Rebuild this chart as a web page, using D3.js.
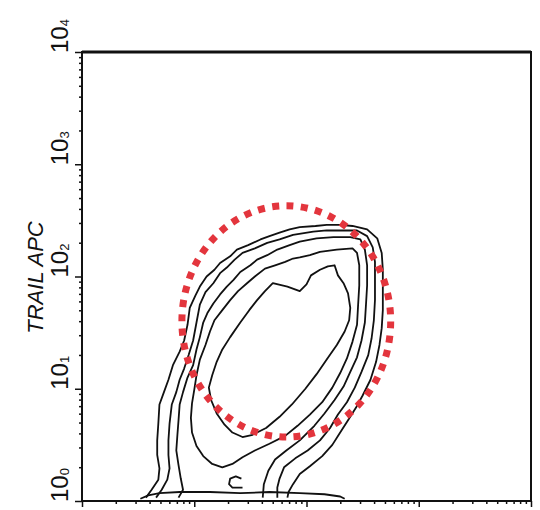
<!DOCTYPE html>
<html>
<head>
<meta charset="utf-8">
<script src="https://cdn.jsdelivr.net/npm/d3@7"></script>
<style>
  html, body { margin: 0; padding: 0; background: #fff; }
  svg { display: block; }
</style>
</head>
<body>
<svg id="chart" width="540" height="510"></svg>
<script>
// Four-decade log axes (10^0 .. 10^4)
const decadeExponents = [0, 1, 2, 3, 4];
const minorMultiples = [2, 3, 4, 5, 6, 7, 8, 9];
const yAxisTitle = "TRAIL APC";

// Density contours, outermost level first.
// Each point is [log10 x-intensity, log10 TRAIL APC intensity].
const contourLevel1 = [
  [0.57,0.03],[0.62,0.10],[0.68,0.19],[0.69,0.29],[0.67,0.41],[0.67,0.54],[0.68,0.69],
  [0.69,0.86],[0.73,0.97],[0.77,1.08],[0.81,1.21],[0.87,1.33],[0.91,1.43],[0.94,1.57],
  [0.96,1.72],[1.01,1.83],[1.05,1.91],[1.11,2.00],[1.18,2.06],[1.23,2.12],[1.32,2.18],
  [1.38,2.24],[1.48,2.28],[1.59,2.33],[1.67,2.36],[1.76,2.39],[1.85,2.42],[1.94,2.44],
  [2.08,2.45],[2.18,2.46],[2.30,2.46],[2.41,2.45],[2.54,2.42],[2.63,2.34],[2.67,2.21],
  [2.68,2.06],[2.68,1.88],[2.68,1.70],[2.67,1.54],[2.65,1.39],[2.62,1.24],[2.57,1.08],
  [2.50,0.94],[2.44,0.83],[2.37,0.72],[2.30,0.61],[2.23,0.50],[2.14,0.40],[2.03,0.31],
  [1.94,0.24],[1.88,0.15],[1.84,0.08],[1.83,0.03]
];
const contourLevel2 = [
  [0.66,0.03],[0.71,0.10],[0.76,0.19],[0.78,0.29],[0.77,0.41],[0.77,0.54],[0.78,0.69],
  [0.80,0.86],[0.84,0.97],[0.87,1.08],[0.91,1.18],[0.95,1.30],[0.99,1.43],[1.02,1.59],
  [1.05,1.75],[1.10,1.86],[1.17,1.94],[1.23,2.03],[1.29,2.08],[1.36,2.15],[1.43,2.21],
  [1.54,2.25],[1.65,2.30],[1.76,2.33],[1.88,2.37],[2.06,2.40],[2.18,2.41],[2.30,2.41],
  [2.45,2.41],[2.54,2.36],[2.59,2.26],[2.61,2.13],[2.61,1.97],[2.61,1.79],[2.60,1.61],
  [2.58,1.45],[2.55,1.30],[2.49,1.15],[2.43,1.01],[2.36,0.88],[2.28,0.77],[2.21,0.65],
  [2.12,0.54],[2.01,0.45],[1.90,0.38],[1.80,0.30],[1.76,0.20],[1.74,0.12],[1.74,0.03]
];
const contourLevel3 = [
  [0.86,0.03],[0.90,0.10],[0.88,0.20],[0.86,0.32],[0.84,0.45],[0.85,0.59],[0.86,0.72],
  [0.87,0.86],[0.90,0.97],[0.94,1.10],[0.99,1.21],[1.02,1.35],[1.05,1.46],[1.08,1.59],
  [1.12,1.68],[1.17,1.76],[1.23,1.84],[1.29,1.91],[1.35,1.97],[1.41,2.04],[1.50,2.10],
  [1.56,2.15],[1.65,2.19],[1.74,2.24],[1.85,2.28],[1.94,2.31],[2.09,2.34],[2.24,2.35],
  [2.39,2.35],[2.48,2.33],[2.52,2.24],[2.54,2.10],[2.54,1.92],[2.53,1.75],[2.52,1.59],
  [2.49,1.43],[2.45,1.28],[2.39,1.15],[2.33,1.02],[2.25,0.90],[2.16,0.78],[2.07,0.67],
  [1.94,0.54],[1.82,0.45],[1.72,0.37],[1.66,0.27],[1.62,0.15],[1.61,0.03]
];
const contourLevel4 = [
  [1.94,2.17],[2.03,2.19],[2.12,2.22],[2.27,2.24],[2.41,2.25],[2.45,2.21],[2.47,2.10],
  [2.47,1.92],[2.46,1.75],[2.45,1.57],[2.41,1.42],[2.36,1.27],[2.30,1.14],[2.23,1.01],
  [2.14,0.88],[2.03,0.77],[1.92,0.67],[1.81,0.58],[1.67,0.51],[1.54,0.45],[1.43,0.39],
  [1.34,0.33],[1.25,0.30],[1.16,0.33],[1.08,0.40],[1.02,0.49],[0.98,0.61],[0.97,0.74],
  [0.98,0.87],[1.00,0.99],[1.02,1.12],[1.05,1.26],[1.10,1.39],[1.14,1.51],[1.18,1.61],
  [1.25,1.70],[1.32,1.79],[1.39,1.87],[1.47,1.94],[1.54,2.00],[1.63,2.07],[1.72,2.10],
  [1.81,2.13],[1.88,2.16]
];
const contourLevel5 = [
  [1.70,1.94],[1.83,1.91],[1.94,1.87],[2.00,1.93],[2.04,2.01],[2.12,2.06],[2.19,2.09],
  [2.25,2.10],[2.28,2.01],[2.33,1.94],[2.37,1.85],[2.39,1.72],[2.38,1.61],[2.34,1.51],
  [2.27,1.39],[2.18,1.26],[2.09,1.13],[1.99,1.00],[1.87,0.86],[1.76,0.75],[1.64,0.65],
  [1.52,0.59],[1.43,0.57],[1.34,0.61],[1.27,0.68],[1.20,0.78],[1.15,0.90],[1.13,1.01],
  [1.16,1.12],[1.20,1.24],[1.25,1.35],[1.32,1.46],[1.41,1.59],[1.49,1.70],[1.56,1.79],
  [1.63,1.87]
];
// Events piled against the lower edge, and a small isolated island
const contourBaseline = [
  [0.52,0.02],[0.59,0.05],[0.69,0.07],[0.87,0.08],[1.14,0.08],[1.41,0.07],[1.67,0.08],
  [1.94,0.07],[2.16,0.06],[2.30,0.04],[2.34,0.02]
];
const contourIsland = [
  [1.42,0.20],[1.37,0.22],[1.32,0.20],[1.31,0.15],[1.34,0.12],[1.43,0.12]
];

// Elliptical gate: centre and radii in decades
const gateCenter = [1.82, 1.60];
const gateRadii = [0.93, 1.03];

// ---- drawing ----
const svg = d3.select("#chart");
const frame = { left: 82, right: 531, top: 52, bottom: 501 };

const x = d3.scaleLog().domain([1, 1e4]).range([frame.left, frame.right]);
const y = d3.scaleLog().domain([1, 1e4]).range([frame.bottom, frame.top]);

const majorTicks = decadeExponents.map(e => Math.pow(10, e));
const minorTicks = decadeExponents.slice(0, -1)
  .flatMap(e => minorMultiples.map(m => m * Math.pow(10, e)));

function styleAxis(g) {
  g.select(".domain").remove();
  g.selectAll(".tick line").attr("stroke", "#111").attr("stroke-width", 1.5);
}

// Left axis ticks (outward)
svg.append("g").attr("transform", `translate(${frame.left},0)`)
  .call(d3.axisLeft(y).tickValues(majorTicks).tickSize(7).tickFormat(""))
  .call(styleAxis);
svg.append("g").attr("transform", `translate(${frame.left},0)`)
  .call(d3.axisLeft(y).tickValues(minorTicks).tickSize(3).tickFormat(""))
  .call(styleAxis);

// Bottom axis ticks (outward)
svg.append("g").attr("transform", `translate(0,${frame.bottom})`)
  .call(d3.axisBottom(x).tickValues(majorTicks).tickSize(6).tickFormat(""))
  .call(styleAxis);
svg.append("g").attr("transform", `translate(0,${frame.bottom})`)
  .call(d3.axisBottom(x).tickValues(minorTicks).tickSize(3).tickFormat(""))
  .call(styleAxis);

// Decade labels 10^n written as "10" with a small trailing digit
const labels = svg.append("g")
  .attr("font-family", "'Liberation Sans', Arial, sans-serif")
  .attr("fill", "#111");
decadeExponents.forEach(e => {
  const t = labels.append("text")
    .attr("transform", `translate(68,${y(Math.pow(10, e)) + 1}) rotate(-90)`)
    .attr("text-anchor", "start")
    .attr("font-size", 24);
  t.append("tspan").text("10");
  t.append("tspan").attr("font-size", 13).attr("dy", 1).text(String(e));
});

// Axis title
svg.append("text")
  .attr("transform", `translate(43,${(frame.top + frame.bottom) / 2 + 1}) rotate(-90)`)
  .attr("text-anchor", "middle")
  .attr("font-family", "'Liberation Sans', Arial, sans-serif")
  .attr("font-style", "italic")
  .attr("font-size", 22)
  .attr("fill", "#111")
  .text(yAxisTitle);

// Contours
const lineOpen = d3.line()
  .x(d => x(Math.pow(10, d[0])))
  .y(d => y(Math.pow(10, d[1])));
const lineClosed = d3.line()
  .x(d => x(Math.pow(10, d[0])))
  .y(d => y(Math.pow(10, d[1])))
  .curve(d3.curveLinearClosed);

const contours = svg.append("g")
  .attr("fill", "none")
  .attr("stroke", "#111")
  .attr("stroke-width", 1.8)
  .attr("stroke-linejoin", "round");

[contourLevel1, contourLevel2, contourLevel3, contourBaseline, contourIsland]
  .forEach(pts => contours.append("path").attr("d", lineOpen(pts)));
[contourLevel4, contourLevel5]
  .forEach(pts => contours.append("path").attr("d", lineClosed(pts)));

// Plot frame
svg.append("rect")
  .attr("x", frame.left).attr("y", frame.top)
  .attr("width", frame.right - frame.left)
  .attr("height", frame.bottom - frame.top)
  .attr("fill", "none")
  .attr("stroke", "#111")
  .attr("stroke-width", 2);
svg.append("line")
  .attr("x1", frame.left).attr("x2", frame.right)
  .attr("y1", frame.top).attr("y2", frame.top)
  .attr("stroke", "#111").attr("stroke-width", 3);

// Gate (dotted red ellipse)
const gcx = x(Math.pow(10, gateCenter[0]));
const gcy = y(Math.pow(10, gateCenter[1]));
const grx = x(Math.pow(10, gateCenter[0] + gateRadii[0])) - gcx;
const gry = gcy - y(Math.pow(10, gateCenter[1] + gateRadii[1]));
svg.append("ellipse")
  .attr("cx", gcx).attr("cy", gcy)
  .attr("rx", grx).attr("ry", gry)
  .attr("fill", "none")
  .attr("stroke", "#e3353d")
  .attr("stroke-width", 7)
  .attr("stroke-dasharray", "7 7.4");
</script>
</body>
</html>
